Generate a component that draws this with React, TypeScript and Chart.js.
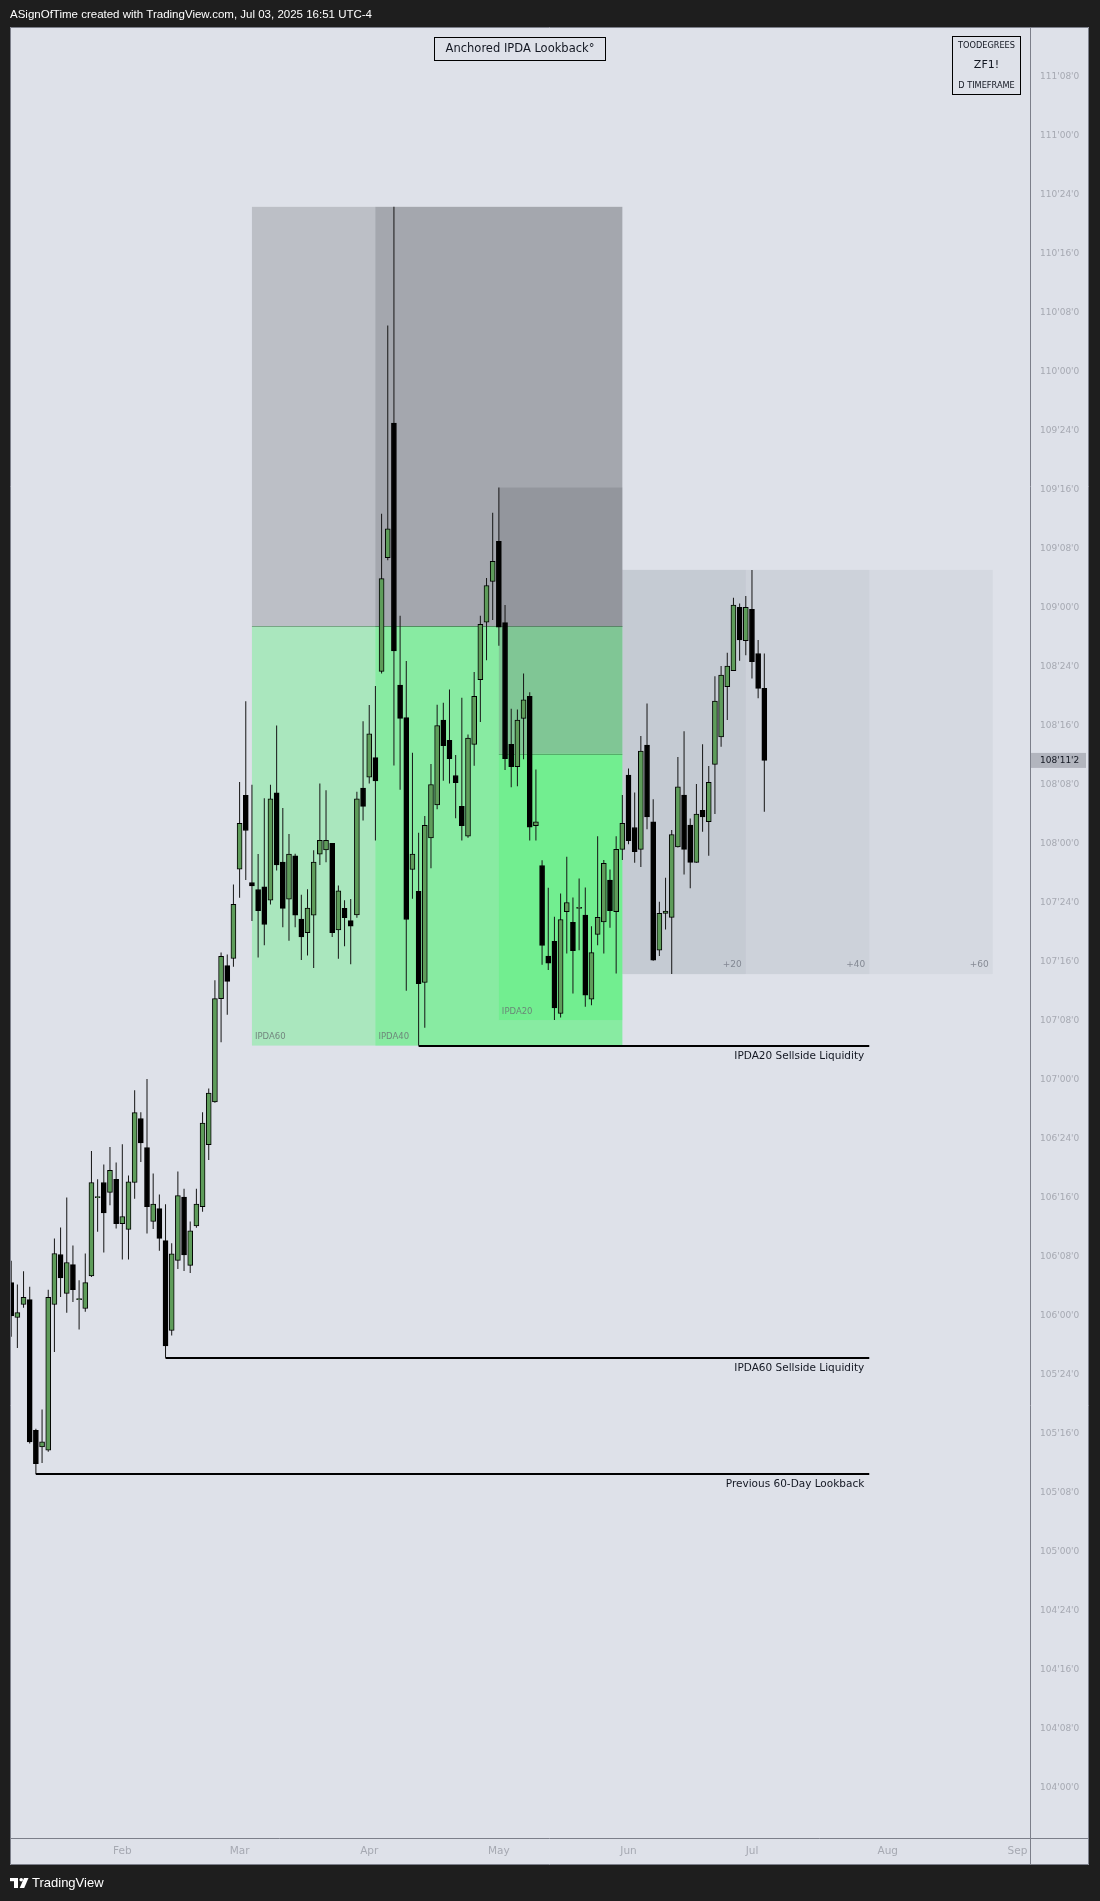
import React, { useEffect, useRef } from 'react';
import { Chart, registerables } from 'chart.js';

Chart.register(...registerables);

// ---- Data (ZF1! daily, 10-Year T-Note futures) ----
const tradeDates: string[] = [
  '2025-01-07', '2025-01-08', '2025-01-09', '2025-01-10', '2025-01-13', '2025-01-14', '2025-01-15', '2025-01-16', '2025-01-17',
  '2025-01-21', '2025-01-22', '2025-01-23', '2025-01-24', '2025-01-27', '2025-01-28', '2025-01-29', '2025-01-30', '2025-01-31',
  '2025-02-03', '2025-02-04', '2025-02-05', '2025-02-06', '2025-02-07', '2025-02-10', '2025-02-11', '2025-02-12', '2025-02-13', '2025-02-14',
  '2025-02-18', '2025-02-19', '2025-02-20', '2025-02-21', '2025-02-24', '2025-02-25', '2025-02-26', '2025-02-27', '2025-02-28',
  '2025-03-03', '2025-03-04', '2025-03-05', '2025-03-06', '2025-03-07', '2025-03-10', '2025-03-11', '2025-03-12', '2025-03-13', '2025-03-14',
  '2025-03-17', '2025-03-18', '2025-03-19', '2025-03-20', '2025-03-21', '2025-03-24', '2025-03-25', '2025-03-26', '2025-03-27', '2025-03-28', '2025-03-31',
  '2025-04-01', '2025-04-02', '2025-04-03', '2025-04-04', '2025-04-07', '2025-04-08', '2025-04-09', '2025-04-10', '2025-04-11',
  '2025-04-14', '2025-04-15', '2025-04-16', '2025-04-17', '2025-04-21', '2025-04-22', '2025-04-23', '2025-04-24', '2025-04-25',
  '2025-04-28', '2025-04-29', '2025-04-30',
  '2025-05-01', '2025-05-02', '2025-05-05', '2025-05-06', '2025-05-07', '2025-05-08', '2025-05-09', '2025-05-12', '2025-05-13', '2025-05-14', '2025-05-15', '2025-05-16',
  '2025-05-19', '2025-05-20', '2025-05-21', '2025-05-22', '2025-05-23', '2025-05-27', '2025-05-28', '2025-05-29', '2025-05-30',
  '2025-06-02', '2025-06-03', '2025-06-04', '2025-06-05', '2025-06-06', '2025-06-09', '2025-06-10', '2025-06-11', '2025-06-12', '2025-06-13',
  '2025-06-16', '2025-06-17', '2025-06-18', '2025-06-20', '2025-06-23', '2025-06-24', '2025-06-25', '2025-06-26', '2025-06-27', '2025-06-30',
  '2025-07-01', '2025-07-02', '2025-07-03',
];

const opens: number[] = [
  106.140, 105.992, 106.047, 106.068, 105.514, 105.444, 105.430, 106.047, 106.259, 106.094,
  106.216, 106.068, 106.030, 106.168, 106.500, 106.564, 106.522, 106.577, 106.390, 106.365,
  106.564, 106.835, 106.712, 106.399, 106.453, 106.318, 105.937, 106.234, 106.502, 106.213,
  106.380, 106.461, 106.724, 106.905, 107.343, 107.483, 107.513, 107.891, 108.204, 107.835,
  107.805, 107.817, 107.760, 108.215, 107.921, 107.764, 107.948, 107.680, 107.622, 107.696,
  107.955, 107.973, 108.001, 107.634, 107.725, 107.673, 107.698, 108.235, 108.281, 108.364,
  108.729, 109.211, 109.781, 108.671, 108.533, 107.890, 107.797, 107.411, 108.024, 108.164,
  108.523, 108.437, 108.288, 108.157, 108.031, 108.420, 108.694, 108.938, 109.110, 109.280,
  108.936, 108.420, 108.326, 108.530, 108.624, 108.076, 107.907, 107.523, 107.586, 107.280,
  107.711, 107.666, 107.725, 107.697, 107.341, 107.615, 107.668, 107.845, 107.711, 107.975,
  108.290, 108.068, 107.975, 108.417, 108.092, 107.548, 107.704, 107.687, 107.986, 108.205,
  108.078, 107.920, 108.141, 108.092, 108.335, 108.452, 108.664, 108.732, 109.000, 108.859,
  108.992, 108.805, 108.657,
];
const highs: number[] = [
  106.232, 106.132, 106.188, 106.122, 105.521, 105.602, 106.110, 106.327, 106.373, 106.500,
  106.297, 106.150, 106.263, 106.697, 106.578, 106.640, 106.714, 106.649, 106.726, 106.594,
  106.955, 106.862, 107.002, 106.602, 106.513, 106.472, 106.307, 106.610, 106.537, 106.399,
  106.537, 106.862, 106.962, 107.421, 107.538, 107.530, 107.826, 108.261, 108.603, 108.249,
  107.956, 108.192, 108.249, 108.500, 108.150, 108.040, 107.957, 107.783, 107.806, 107.971,
  108.254, 108.226, 108.001, 107.822, 107.760, 107.765, 108.219, 108.518, 108.587, 108.667,
  109.397, 110.194, 110.697, 108.965, 108.773, 108.384, 108.046, 108.117, 108.337, 108.588,
  108.596, 108.652, 108.375, 108.617, 108.462, 108.727, 108.965, 109.125, 109.401, 109.508,
  109.010, 108.571, 108.568, 108.720, 108.641, 108.314, 107.929, 107.813, 107.690, 107.788,
  107.944, 107.771, 107.852, 107.814, 107.650, 108.031, 107.930, 107.890, 108.031, 108.205,
  108.318, 108.216, 108.455, 108.593, 108.187, 107.753, 107.855, 108.057, 108.367, 108.476,
  108.106, 108.252, 108.421, 108.328, 108.709, 108.752, 108.808, 109.041, 109.017, 109.048,
  109.159, 108.862, 108.805,
];
const lows: number[] = [
  105.910, 105.863, 106.033, 105.458, 105.328, 105.376, 105.423, 105.846, 106.079, 106.012,
  106.058, 105.941, 106.016, 106.164, 106.355, 106.267, 106.468, 106.369, 106.238, 106.238,
  106.495, 106.651, 106.348, 106.367, 106.275, 105.821, 105.916, 106.197, 106.189, 106.181,
  106.372, 106.440, 106.659, 106.902, 107.158, 107.275, 107.478, 107.770, 107.845, 107.672,
  107.517, 107.569, 107.742, 107.886, 107.645, 107.588, 107.645, 107.507, 107.526, 107.473,
  107.909, 107.921, 107.604, 107.512, 107.565, 107.489, 107.686, 108.097, 108.254, 108.013,
  108.720, 109.200, 108.330, 108.228, 107.376, 107.766, 107.144, 107.220, 107.895, 108.145,
  108.266, 108.254, 108.107, 108.013, 108.024, 108.329, 108.515, 108.776, 108.947, 108.838,
  108.311, 108.238, 108.243, 108.357, 108.013, 108.013, 107.486, 107.464, 107.252, 107.263,
  107.534, 107.365, 107.548, 107.308, 107.315, 107.569, 107.534, 107.643, 107.449, 107.930,
  107.997, 107.918, 107.901, 108.060, 107.503, 107.523, 107.636, 107.447, 107.983, 107.869,
  107.810, 107.918, 108.050, 107.948, 108.125, 108.410, 108.523, 108.732, 108.774, 108.798,
  108.699, 108.615, 108.135,
];
const closes: number[] = [
  105.999, 106.013, 106.077, 105.465, 105.373, 105.465, 106.077, 106.263, 106.160, 106.225,
  106.110, 106.068, 106.140, 106.564, 106.500, 106.435, 106.615, 106.390, 106.420, 106.567,
  106.860, 106.732, 106.461, 106.472, 106.327, 105.872, 106.262, 106.508, 106.257, 106.359,
  106.472, 106.816, 106.943, 107.343, 107.522, 107.416, 107.742, 108.086, 108.055, 107.820,
  107.715, 107.657, 108.189, 107.909, 107.725, 107.955, 107.696, 107.604, 107.726, 107.921,
  108.013, 108.013, 107.622, 107.799, 107.686, 107.650, 108.189, 108.157, 108.465, 108.265,
  109.122, 109.333, 108.816, 108.530, 107.678, 107.955, 107.406, 108.077, 108.250, 108.500,
  108.414, 108.359, 108.258, 108.076, 108.447, 108.623, 108.928, 109.093, 109.195, 108.916,
  108.359, 108.326, 108.523, 108.609, 108.069, 108.092, 107.568, 107.493, 107.304, 107.678,
  107.750, 107.546, 107.725, 107.358, 107.538, 107.687, 107.916, 107.715, 107.975, 108.085,
  108.012, 107.965, 108.392, 108.113, 107.506, 107.704, 107.714, 108.038, 108.240, 107.975,
  107.920, 108.125, 108.113, 108.259, 108.603, 108.714, 108.752, 109.010, 108.862, 109.000,
  108.770, 108.657, 108.352,
];

// Future session closures (used only to extend the time axis past the last bar)
const sessionClosures: string[] = ['2025-07-04', '2025-09-01'];
const monthNames: string[] = ['Jan', 'Feb', 'Mar', 'Apr', 'May', 'Jun', 'Jul', 'Aug', 'Sep', 'Oct', 'Nov', 'Dec'];

// IPDA lookbacks anchored on the last bar of May
const anchorIndex = 99;
const ipdaNames: string[] = ['IPDA60', 'IPDA40', 'IPDA20'];
const ipdaLengths: number[] = [60, 40, 20];
const projectionLengths: number[] = [20, 40, 60];
const liquidityLabels: string[] = ['IPDA20 Sellside Liquidity', 'IPDA60 Sellside Liquidity', 'Previous 60-Day Lookback'];
const liquidityBars: number[] = [66, 25, 4];
const liquidityEndOffset = 40;

const headerText = 'ASignOfTime created with TradingView.com, Jul 03, 2025 16:51 UTC-4';
const titleText = 'Anchored IPDA Lookback°';
const infoLines: string[] = ['TOODEGREES', 'ZF1!', 'D TIMEFRAME'];

// ---- Styling ----
const BG = 'rgb(222,225,233)';
const DARK = '#1e1e1e';
const FRAME = '#7c7f8a';
const UP = '#5e9c5a';
const DOWN = '#000000';
const AXIS_TEXT = '#a6a9b2';
const FONT = "'DejaVu Sans', sans-serif";

function fmtPrice(v: number): string {
  const whole = Math.floor(v + 1e-9);
  const t = (v - whole) * 32;
  const n = Math.floor(t + 1e-6);
  const q = t - n;
  const qd = q < 0.125 ? '0' : q < 0.375 ? '2' : q < 0.625 ? '5' : '7';
  return `${whole}'${String(n).padStart(2, '0')}'${qd}`;
}

function extendCalendar(dates: string[], until: string): string[] {
  const out = dates.slice();
  const d = new Date(dates[dates.length - 1] + 'T12:00:00Z');
  for (;;) {
    d.setUTCDate(d.getUTCDate() + 1);
    const iso = d.toISOString().slice(0, 10);
    if (iso > until) break;
    const wd = d.getUTCDay();
    if (wd === 0 || wd === 6) continue;
    if (sessionClosures.includes(iso)) continue;
    out.push(iso);
  }
  return out;
}

const X_MIN = -0.194;
const X_MAX = 165.04;
const Y_MIN = 103.787;
const Y_MAX = 111.459;

const calendar = extendCalendar(tradeDates, '2025-10-31');
const monthTicks: { value: number; label: string }[] = [];
for (let i = 1; i < calendar.length; i++) {
  const m = Number(calendar[i].slice(5, 7));
  const pm = Number(calendar[i - 1].slice(5, 7));
  if (m !== pm && i <= X_MAX) monthTicks.push({ value: i, label: monthNames[m - 1] });
}

function rangeHL(a: number, b: number) {
  let hi = -Infinity, lo = Infinity;
  for (let i = a; i <= b && i < highs.length; i++) {
    hi = Math.max(hi, highs[i]);
    lo = Math.min(lows[i], lo);
  }
  return { hi, lo };
}

const framePlugin = {
  id: 'frame',
  beforeDraw(chart: any) {
    const { ctx, width, height } = chart;
    const a = chart.chartArea;
    const ys = chart.scales.y, xs = chart.scales.x;
    ctx.save();
    ctx.fillStyle = DARK;
    ctx.fillRect(0, 0, width, height);
    ctx.fillStyle = BG;
    ctx.fillRect(a.left, a.top, ys.right - a.left, xs.bottom - a.top);
    ctx.restore();
  },
  afterDraw(chart: any) {
    const { ctx } = chart;
    const a = chart.chartArea;
    const ys = chart.scales.y, xs = chart.scales.x;
    ctx.save();
    ctx.strokeStyle = FRAME;
    ctx.lineWidth = 1;
    ctx.beginPath();
    ctx.rect(a.left + 0.5, a.top + 0.5, ys.right - a.left - 1, xs.bottom - a.top - 1);
    ctx.moveTo(Math.round(a.right) + 0.5, a.top);
    ctx.lineTo(Math.round(a.right) + 0.5, xs.bottom);
    ctx.moveTo(a.left, Math.round(a.bottom) + 0.5);
    ctx.lineTo(ys.right, Math.round(a.bottom) + 0.5);
    ctx.stroke();

    // header & footer
    ctx.fillStyle = '#ffffff';
    ctx.font = "11.5px 'Liberation Sans', sans-serif";
    ctx.textBaseline = 'middle';
    ctx.textAlign = 'left';
    ctx.fillText(headerText, 10, 14.5);
    const fy = 1878;
    ctx.fillRect(10, fy, 8, 3.2);
    ctx.fillRect(14, fy, 4, 10);
    ctx.beginPath();
    ctx.arc(21.2, fy + 1.8, 1.8, 0, Math.PI * 2);
    ctx.fill();
    ctx.beginPath();
    ctx.moveTo(24, fy);
    ctx.lineTo(28.5, fy);
    ctx.lineTo(24.2, fy + 10);
    ctx.lineTo(19.7, fy + 10);
    ctx.closePath();
    ctx.fill();
    ctx.font = "13px 'Liberation Sans', sans-serif";
    ctx.fillText('TradingView', 32, 1883.5);

    // current price label
    const last = closes[closes.length - 1];
    const py = ys.getPixelForValue(last);
    ctx.fillStyle = '#b2b5be';
    ctx.fillRect(a.right + 1, py - 7.5, 55, 15);
    ctx.fillStyle = '#131722';
    ctx.font = `9px ${FONT}`;
    ctx.fillText(fmtPrice(last), a.right + 10, py + 0.5);

    // title box
    ctx.fillStyle = BG;
    ctx.fillRect(434.5, 37.5, 171, 23);
    ctx.strokeStyle = '#000';
    ctx.strokeRect(434.5, 37.5, 171, 23);
    ctx.fillStyle = '#131722';
    ctx.font = `11.5px ${FONT}`;
    ctx.textAlign = 'center';
    ctx.fillText(titleText, 520, 49.5);

    // info box
    ctx.fillStyle = BG;
    ctx.fillRect(952.5, 36.5, 68, 58);
    ctx.strokeRect(952.5, 36.5, 68, 58);
    ctx.fillStyle = '#131722';
    ctx.font = `8.2px ${FONT}`;
    ctx.fillText(infoLines[0], 986.5, 45.5);
    ctx.font = `11px ${FONT}`;
    ctx.fillText(infoLines[1], 986.5, 65.5);
    ctx.font = `8.2px ${FONT}`;
    ctx.fillText(infoLines[2], 986.5, 86);
    ctx.restore();
  },
};

const zonesPlugin = {
  id: 'zones',
  beforeDatasetsDraw(chart: any) {
    const { ctx } = chart;
    const xs = chart.scales.x, ys = chart.scales.y;
    ctx.save();
    const proj = rangeHL(anchorIndex + 1, highs.length - 1);
    projectionLengths.forEach((n) => {
      const x0 = xs.getPixelForValue(anchorIndex);
      const x1 = xs.getPixelForValue(anchorIndex + n);
      const y0 = ys.getPixelForValue(proj.hi);
      const y1 = ys.getPixelForValue(proj.lo);
      ctx.fillStyle = 'rgba(120,123,134,0.08)';
      ctx.fillRect(x0, y0, x1 - x0, y1 - y0);
      ctx.fillStyle = 'rgba(120,125,135,0.85)';
      ctx.font = `9px ${FONT}`;
      ctx.textAlign = 'right';
      ctx.textBaseline = 'middle';
      ctx.fillText(`+${n}`, x1 - 4, y1 - 9);
    });
    ipdaLengths.forEach((len, k) => {
      const start = anchorIndex - len;
      const { hi, lo } = rangeHL(start, anchorIndex);
      const mid = (hi + lo) / 2;
      const x0 = xs.getPixelForValue(start);
      const x1 = xs.getPixelForValue(anchorIndex);
      const yh = ys.getPixelForValue(hi);
      const ym = ys.getPixelForValue(mid);
      const yl = ys.getPixelForValue(lo);
      ctx.fillStyle = 'rgba(110,112,118,0.3)';
      ctx.fillRect(x0, yh, x1 - x0, ym - yh);
      ctx.fillStyle = 'rgba(75,244,112,0.35)';
      ctx.fillRect(x0, ym, x1 - x0, yl - ym);
      ctx.strokeStyle = 'rgba(50,95,60,0.45)';
      ctx.lineWidth = 1;
      ctx.beginPath();
      ctx.moveTo(x0, Math.round(ym) + 0.5);
      ctx.lineTo(x1, Math.round(ym) + 0.5);
      ctx.stroke();
      ctx.fillStyle = 'rgba(105,118,115,0.85)';
      ctx.font = `8.5px ${FONT}`;
      ctx.textAlign = 'left';
      ctx.textBaseline = 'middle';
      ctx.fillText(ipdaNames[k], x0 + 3, yl - 8.5);
    });
    ctx.restore();
  },
  afterDatasetsDraw(chart: any) {
    const { ctx } = chart;
    const xs = chart.scales.x, ys = chart.scales.y;
    ctx.save();
    liquidityBars.forEach((bar, k) => {
      const y = Math.round(ys.getPixelForValue(lows[bar]));
      const x0 = xs.getPixelForValue(bar);
      const x1 = xs.getPixelForValue(anchorIndex + liquidityEndOffset);
      ctx.fillStyle = '#000';
      ctx.fillRect(x0, y - 1, x1 - x0, 2);
      ctx.fillStyle = '#131722';
      ctx.font = `10.5px ${FONT}`;
      ctx.textAlign = 'right';
      ctx.textBaseline = 'middle';
      ctx.fillText(liquidityLabels[k], x1 - 5, y + 10.5);
    });
    ctx.restore();
  },
};

export default function App() {
  const ref = useRef<HTMLCanvasElement>(null);
  useEffect(() => {
    const canvas = ref.current;
    if (!canvas) return;
    const idx = opens.map((_, i) => i);
    const chart = new Chart(canvas, {
      type: 'bar',
      data: {
        datasets: [
          {
            label: 'Wicks',
            data: idx.map((i) => ({ x: i, y: [lows[i], highs[i]] })) as any,
            backgroundColor: '#151515',
            borderWidth: 0,
            barThickness: 1,
            inflateAmount: 0,
            grouped: false,
            order: 2,
          } as any,
          {
            label: 'Bodies',
            data: idx.map((i) => ({ x: i, y: [opens[i], closes[i]] })) as any,
            backgroundColor: idx.map((i) => (closes[i] >= opens[i] ? UP : DOWN)),
            borderColor: '#000',
            borderWidth: 1,
            borderSkipped: false,
            barThickness: 5,
            minBarLength: 1,
            grouped: false,
            order: 1,
          } as any,
        ],
      },
      options: {
        responsive: false,
        animation: false,
        devicePixelRatio: 1,
        events: [],
        layout: { padding: { left: 10, top: 27, right: 11, bottom: 36 } },
        plugins: { legend: { display: false }, tooltip: { enabled: false } },
        scales: {
          x: {
            type: 'linear',
            offset: false,
            min: X_MIN,
            max: X_MAX,
            grid: { display: false, offset: false, drawTicks: false },
            border: { display: false },
            afterBuildTicks: (scale: any) => {
              scale.ticks = monthTicks.map((t) => ({ value: t.value }));
            },
            afterFit: (scale: any) => {
              scale.height = 27;
            },
            ticks: {
              autoSkip: false,
              maxRotation: 0,
              padding: 7,
              color: AXIS_TEXT,
              font: { family: FONT, size: 10.5 },
              callback: (v: any) => {
                const t = monthTicks.find((m) => m.value === v);
                return t ? t.label : '';
              },
            },
          },
          y: {
            type: 'linear',
            position: 'right',
            min: Y_MIN,
            max: Y_MAX,
            grid: { display: false, drawTicks: false },
            border: { display: false },
            afterFit: (scale: any) => {
              scale.width = 59;
            },
            ticks: {
              stepSize: 0.25,
              includeBounds: false,
              padding: 10,
              color: AXIS_TEXT,
              font: { family: FONT, size: 9 },
              callback: (v: any) => fmtPrice(Number(v)),
            },
          },
        },
      } as any,
      plugins: [framePlugin, zonesPlugin],
    });
    return () => chart.destroy();
  }, []);
  return (
    <div style={{ position: 'absolute', left: 0, top: 0, width: 1100, height: 1901 }}>
      <canvas ref={ref} width={1100} height={1901} style={{ width: 1100, height: 1901, display: 'block' }} />
    </div>
  );
}
